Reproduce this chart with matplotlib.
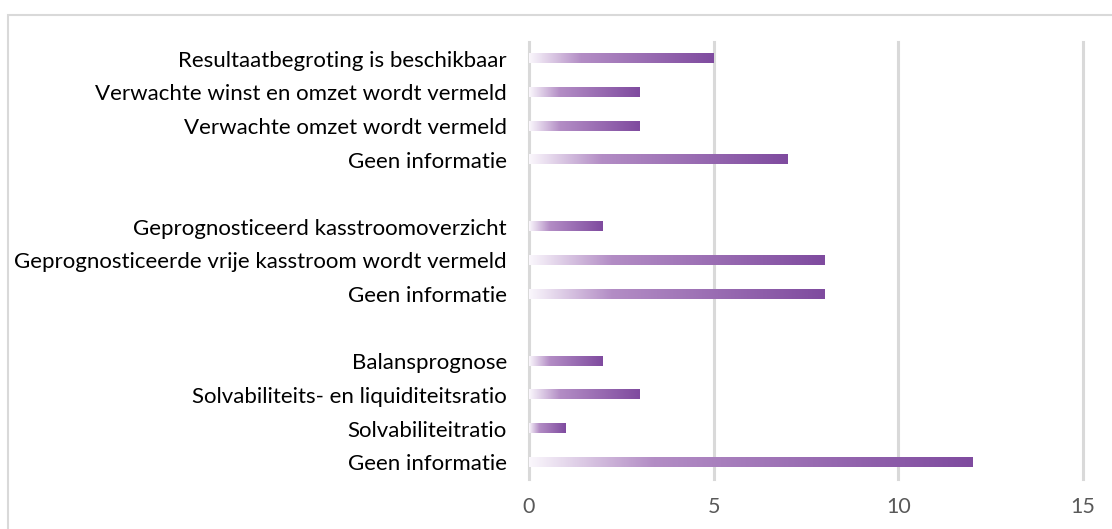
import matplotlib.pyplot as plt
import numpy as np
from matplotlib.colors import LinearSegmentedColormap
from matplotlib.patches import Rectangle

# categories from top to bottom, None marks the gap between groups
labels = [
    "Resultaatbegroting is beschikbaar",
    "Verwachte winst en omzet wordt vermeld",
    "Verwachte omzet wordt vermeld",
    "Geen informatie",
    None,
    "Geprognosticeerd kasstroomoverzicht",
    "Geprognosticeerde vrije kasstroom wordt vermeld",
    "Geen informatie",
    None,
    "Balansprognose",
    "Solvabiliteits- en liquiditeitsratio",
    "Solvabiliteitratio",
    "Geen informatie",
]
values = [5, 3, 3, 7, None, 2, 8, 8, None, 2, 3, 1, 12]
xticks = [0, 5, 10, 15]

plt.rcParams['font.family'] = ['Lato', 'DejaVu Sans']

cmap = LinearSegmentedColormap.from_list(
    "bar", [(0.0, "#faf7fc"), (0.28, "#b38dc5"), (1.0, "#7f4b9f")])
grad = np.linspace(0, 1, 256).reshape(1, -1)

fig = plt.figure(figsize=(11.12, 5.29), dpi=100)
ax = fig.add_axes([529 / 1112, 1 - 479 / 529, (1083 - 529) / 1112, (479 - 42) / 529])

n = len(labels)
bar_h = 0.27
ypos = []
ylabels = []
for i, (lab, v) in enumerate(zip(labels, values)):
    y = n - 1 - i
    if lab is None:
        continue
    ypos.append(y)
    ylabels.append(lab)
    ax.imshow(grad, cmap=cmap, aspect='auto', interpolation='bilinear',
              extent=[0, v, y - bar_h / 2, y + bar_h / 2], zorder=3)

ax.set_xlim(0, 15)
ax.set_ylim(-0.5, n - 0.5)
ax.set_xticks(xticks)
ax.set_xticklabels([str(t) for t in xticks], fontsize=15.5, color="#595959")
ax.set_yticks(ypos)
ax.set_yticklabels(ylabels, fontsize=16, color="#000000")
ax.tick_params(axis='both', length=0)
ax.tick_params(axis='x', pad=13)
ax.tick_params(axis='y', pad=16)
for t in xticks:
    ax.axvline(t, color="#d9d9d9", linewidth=2.2, zorder=0, clip_on=False)
for s in ax.spines.values():
    s.set_visible(False)

# chart border (right and bottom edges lie outside the picture)
fig.patches.append(Rectangle((8 / 1112, -0.05), 1.0, 1 - 15 / 529 + 0.05,
                             transform=fig.transFigure, fill=False,
                             edgecolor="#d9d9d9", linewidth=1.5))

fig.savefig("out.png", dpi=100)
